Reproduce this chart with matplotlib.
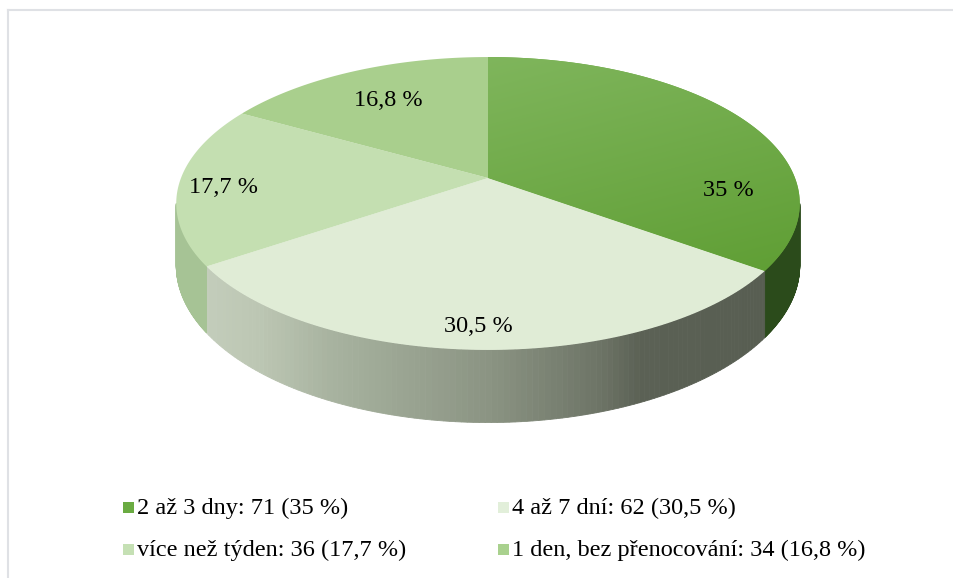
import numpy as np
import matplotlib
matplotlib.use("Agg")
import matplotlib.pyplot as plt
from matplotlib.patches import Polygon, Rectangle
from matplotlib.colors import to_rgb

# ---------------- data ----------------
categories = ["2 až 3 dny", "4 až 7 dní", "více než týden", "1 den, bez přenocování"]
counts = [71, 62, 36, 34]
percents = [35.0, 30.5, 17.7, 16.8]
pct_labels = ["35 %", "30,5 %", "17,7 %", "16,8 %"]
legend_labels = ["2 až 3 dny: 71 (35 %)", "4 až 7 dní: 62 (30,5 %)",
                 "více než týden: 36 (17,7 %)", "1 den, bez přenocování: 34 (16,8 %)"]

# ---------------- style / layout ----------------
W, H_FIG = 954, 578
top_colors = ["#6aaa40", "#e0ecd6", "#c4dfb1", "#a9cf8d"]
legend_colors = ["#6aab42", "#e2efda", "#c5e0b4", "#a9d18e"]
side_colors = ["#2b4b1b", None, "#a6c395", "#9fbf8a"]
FONT = "Liberation Serif"
FS = 17.5

CX, CY = 488.0, 178.0      # centre of the top face (pixels)
A, B = 307.0, 142.0         # horizontal / vertical radius factors
K = 0.174                   # perspective strength
DEPTH = 60.0                # thickness of the pie

def proj(theta_deg, f=1.0, z=0.0):
    t = np.radians(theta_deg)
    u = f * np.cos(t)
    v = f * np.sin(t)
    w = 1.0 + K * v
    return CX + A * u / w, CY - B * v / w + DEPTH * z / w

fig = plt.figure(figsize=(W / 100, H_FIG / 100), dpi=100)
ax = fig.add_axes([0, 0, 1, 1])
ax.set_xlim(0, W)
ax.set_ylim(H_FIG, 0)
ax.axis("off")

# frame (only top and left visible)
ax.plot([8.5, 8.5], [9.5, H_FIG + 5], color="#dfe1e5", lw=1.5, zorder=0)
ax.plot([8.5, W + 5], [9.5, 9.5], color="#dfe1e5", lw=1.5, zorder=0)

# slice angles (clockwise from 12 o'clock -> theta counterclockwise from +x)
total = sum(percents)
cum = np.concatenate([[0], np.cumsum(percents)]) / total * 360.0
theta_start = 90 - cum[:-1]
theta_end = 90 - cum[1:]

# ---------- sides ----------
VIS_LO, VIS_HI = -170.0, -10.0
grad_stops_x = [206, 260, 330, 488, 600, 640, 800]
grad_stops_c = ["#c3cdbb", "#bcc6b3", "#a8b3a0", "#8b9483", "#6d7466", "#5b6155", "#575d51"]
grad_rgb = np.array([to_rgb(c) for c in grad_stops_c])

def grad_color(x):
    return [np.interp(x, grad_stops_x, grad_rgb[:, i]) for i in range(3)]

for i in range(len(percents)):
    hi = min(theta_start[i], VIS_HI)
    lo = max(theta_end[i], VIS_LO)
    if hi <= lo:
        continue
    ths = np.linspace(hi, lo, 120)
    for a0, a1 in zip(ths[:-1], ths[1:]):
        x0t, y0t = proj(a0)
        x1t, y1t = proj(a1)
        x0b, y0b = proj(a0, z=1)
        x1b, y1b = proj(a1, z=1)
        if side_colors[i] is None:
            col = grad_color((x0t + x1t) / 2)
        else:
            col = side_colors[i]
        ax.add_patch(Polygon([(x0t, y0t), (x1t, y1t), (x1b, y1b), (x0b, y0b)],
                             closed=True, facecolor=col, edgecolor=col, lw=0.6, zorder=2))

# ---------- top faces ----------
for i in range(len(percents)):
    ths = np.linspace(theta_start[i], theta_end[i], 200)
    xs, ys = proj(ths)
    pts = np.vstack([[CX, CY], np.column_stack([xs, ys])])
    poly = Polygon(pts, closed=True, facecolor=top_colors[i], edgecolor="none", zorder=3)
    ax.add_patch(poly)
    if i == 0:
        # gentle gradient on the dark slice
        gy, gx = np.mgrid[0:1:200j, 0:1:200j]
        g = (gy * 0.75 + gx * 0.25)
        c0 = np.array(to_rgb("#80b65d"))
        c1 = np.array(to_rgb("#5c9c30"))
        img = c0[None, None, :] * (1 - g[..., None]) + c1[None, None, :] * g[..., None]
        im = ax.imshow(img, extent=[CX, 805, 300, 50], zorder=3.1, interpolation="bilinear")
        im.set_clip_path(poly)
        ax.set_xlim(0, W)
        ax.set_ylim(H_FIG, 0)

# ---------- data labels ----------
label_xy = [(728, 190), (478, 327), (224, 187), (388, 100)]
for (lx, ly), txt in zip(label_xy, pct_labels):
    ax.text(lx, ly, txt, ha="center", va="center", fontsize=FS, family=FONT,
            color="black", zorder=5)

# ---------- legend ----------
leg_pos = [(123, 508), (498, 508), (123, 550), (498, 550)]
SQ = 11
for (lx, ly), col, txt in zip(leg_pos, legend_colors, legend_labels):
    ax.add_patch(Rectangle((lx, ly - SQ / 2), SQ, SQ, facecolor=col, edgecolor="none", zorder=5))
    ax.text(lx + SQ + 3, ly, txt, ha="left", va="center", fontsize=FS, family=FONT,
            color="black", zorder=5)

fig.savefig("out.png", dpi=100)
